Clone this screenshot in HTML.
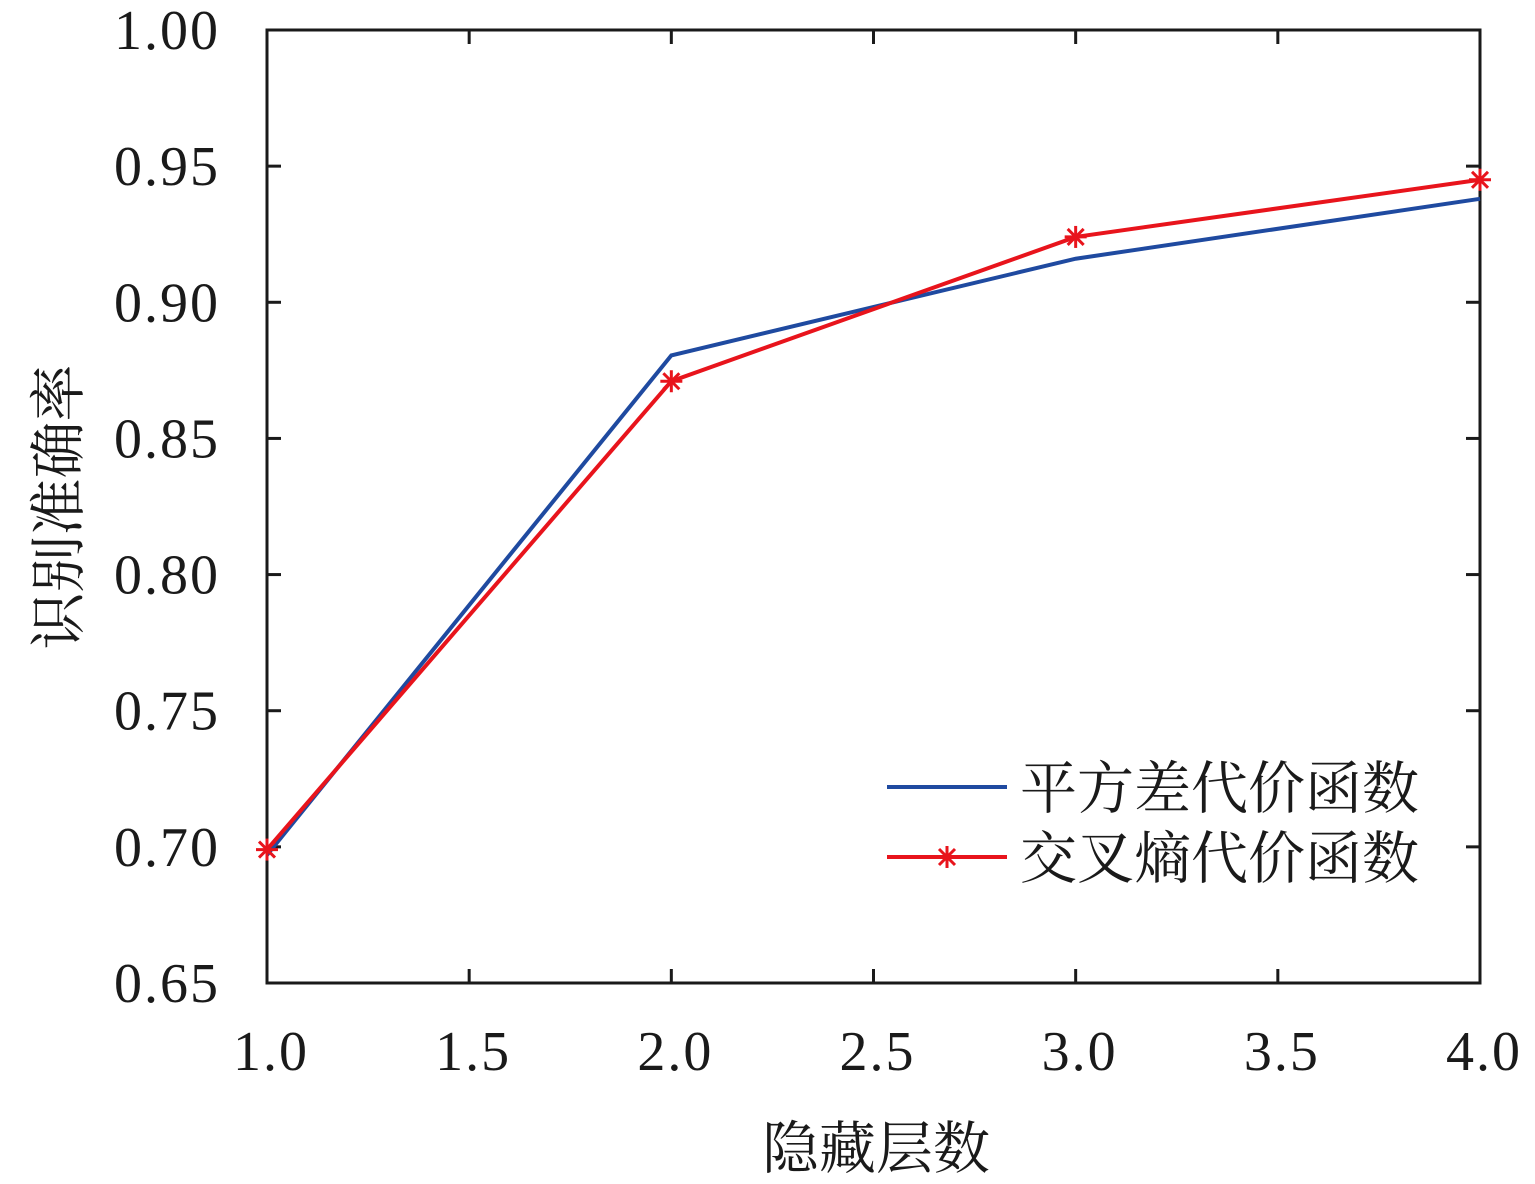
<!DOCTYPE html>
<html><head><meta charset="utf-8"><style>
body{margin:0;background:#fff;}
svg text{font-family:"Liberation Serif","Noto Serif CJK SC",serif;fill:#1a1a1a;}
</style></head><body>
<svg id="chart" width="1535" height="1179" viewBox="0 0 1535 1179" xmlns="http://www.w3.org/2000/svg">
<g id="axes"></g>
<g id="series"></g>
<text transform="translate(78,507) rotate(-90)" text-anchor="middle" font-size="57">识别准确率</text>
<text x="876" y="1168" text-anchor="middle" font-size="57">隐藏层数</text>
<g>
<line x1="887" y1="787" x2="1007" y2="787" stroke="#1f4aa0" stroke-width="4"/>
<text x="1020" y="808" font-size="57">平方差代价函数</text>
<line x1="887" y1="857" x2="1007" y2="857" stroke="#e8141c" stroke-width="4"/>
<g id="legmark"></g>
<text x="1020" y="878" font-size="57">交叉熵代价函数</text>
</g>
</svg>
<script>
const xs=[1,2,3,4];
const mseVals=[0.697,0.8805,0.916,0.938];
const ceVals=[0.699,0.871,0.924,0.945];
const xTicks=[1.0,1.5,2.0,2.5,3.0,3.5,4.0];
const yTicks=[0.65,0.70,0.75,0.80,0.85,0.90,0.95,1.00];
const L=267,R=1480,T=30,B=983;
const X=v=>L+(v-1)/3*(R-L);
const Y=v=>B-(v-0.65)/0.35*(B-T);
const NS="http://www.w3.org/2000/svg";
function mk(tag,attrs,parent){const e=document.createElementNS(NS,tag);for(const k in attrs)e.setAttribute(k,attrs[k]);parent.appendChild(e);return e;}
const ax=document.getElementById('axes');
const frame=mk('rect',{x:L,y:T,width:R-L,height:B-T,fill:'none',stroke:'#1a1a1a','stroke-width':3},ax);


xTicks.forEach(v=>{
 const x=X(v);
 const t1=mk('line',{x1:x,y1:B,x2:x,y2:B-14,stroke:'#1a1a1a','stroke-width':3},ax);
 
 
 const t2=mk('line',{x1:x,y1:T,x2:x,y2:T+14,stroke:'#1a1a1a','stroke-width':3},ax);
 
 
 const tx=mk('text',{x:x+4,y:1070,'text-anchor':'middle','font-size':56,'letter-spacing':2},ax);
 tx.textContent=v.toFixed(1);
 
 
});
yTicks.forEach(v=>{
 const y=Y(v);
 const t1=mk('line',{x1:L,y1:y,x2:L+14,y2:y,stroke:'#1a1a1a','stroke-width':3},ax);
 
 
 const t2=mk('line',{x1:R,y1:y,x2:R-14,y2:y,stroke:'#1a1a1a','stroke-width':3},ax);
 
 
 const tx=mk('text',{x:220,y:y+19,'text-anchor':'end','font-size':56,'letter-spacing':2},ax);
 tx.textContent=v.toFixed(2);
 
 
});
const sg=document.getElementById('series');
const p1=mk('polyline',{points:xs.map((x,i)=>X(x)+','+Y(mseVals[i])).join(' '),fill:'none',stroke:'#1f4aa0','stroke-width':4},sg);


const p2=mk('polyline',{points:xs.map((x,i)=>X(x)+','+Y(ceVals[i])).join(' '),fill:'none',stroke:'#e8141c','stroke-width':4},sg);


function star(cx,cy,parent,name){
 const g=mk('g',{stroke:'#e8141c','stroke-width':3},parent);
 
 
 const r=11;
 mk('line',{x1:cx-r,y1:cy,x2:cx+r,y2:cy},g);
 mk('line',{x1:cx,y1:cy-r,x2:cx,y2:cy+r},g);
 mk('line',{x1:cx-8,y1:cy-8,x2:cx+8,y2:cy+8},g);
 mk('line',{x1:cx-8,y1:cy+8,x2:cx+8,y2:cy-8},g);
}
xs.forEach((x,i)=>star(X(x),Y(ceVals[i]),sg,'ce-point'));
star(947,857,document.getElementById('legmark'),'legend-star');
</script>
</body></html>
